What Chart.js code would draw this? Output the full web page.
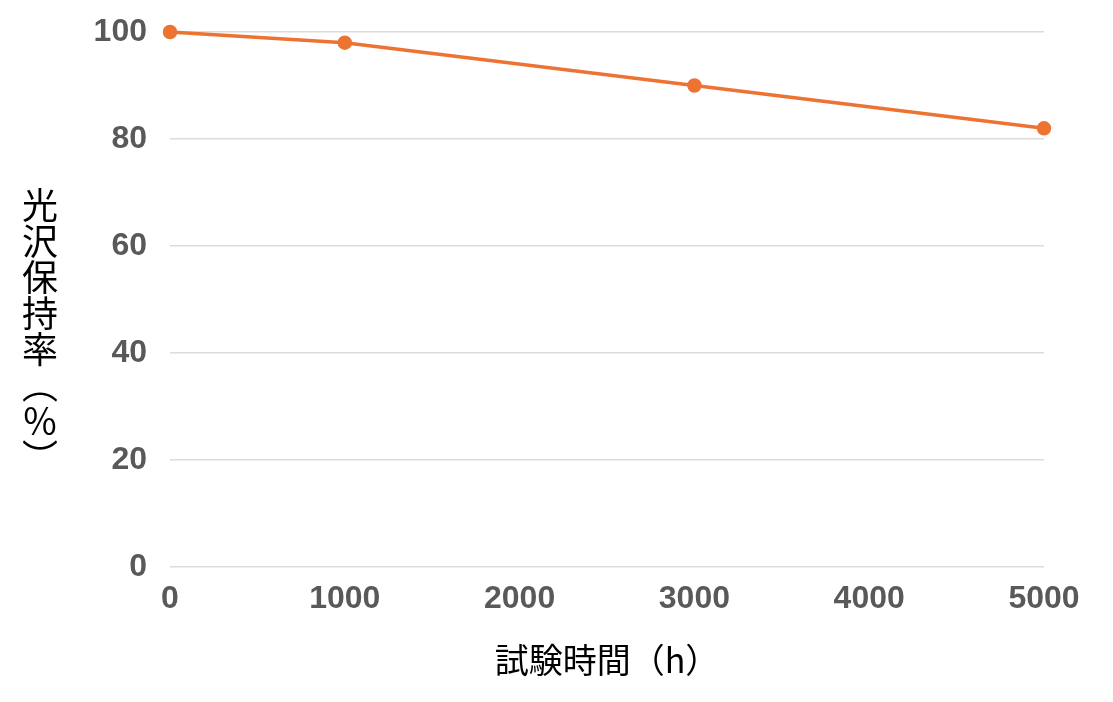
<!doctype html>
<html lang="ja">
<head>
<meta charset="utf-8">
<title>光沢保持率</title>
<style>
  * { box-sizing: border-box; margin: 0; padding: 0; }
  body { background: #fff; width: 1113px; height: 702px; overflow: hidden; position: relative; }
  .cw { position: absolute; left: 0; top: 0; width: 1113px; height: 702px; }
  .ytitle { position: absolute; left: 22px; top: 187px; writing-mode: vertical-rl; text-orientation: upright;
    font: 36px/36px "Noto Sans CJK JP", sans-serif; color: #000; width: 36px; }
</style>
</head>
<body>
<div class="cw"><canvas id="c"></canvas></div>
<div class="ytitle">光沢保持率（％）</div>
<script src="https://cdn.jsdelivr.net/npm/chart.js@4.4.1/dist/chart.umd.min.js"></script>
<script>
  // test hours vs gloss retention (%)
  const hours = [0, 1000, 3000, 5000];
  const retention = [100, 98, 90, 82];
  const xTitle = "試験時間（h）";

  const orange = "#ec7331";
  const tickFont = { family: "'Liberation Sans', Arial, sans-serif", size: 32, weight: "bold" };

  new Chart(document.getElementById("c"), {
    type: "line",
    data: { datasets: [{
      data: hours.map((h, i) => ({ x: h, y: retention[i] })),
      borderColor: orange, backgroundColor: orange, borderWidth: 3.5,
      pointRadius: 5.5, pointHoverRadius: 5.5, tension: 0, clip: false }] },
    options: {
      responsive: true, maintainAspectRatio: false, animation: false,
      layout: { padding: { left: 0, right: 69, top: 32, bottom: 0 } },
      plugins: { legend: { display: false }, tooltip: { enabled: false } },
      scales: {
        x: { type: "linear", min: 0, max: 5000,
          ticks: { stepSize: 1000, color: "#595959", font: tickFont, padding: 13, maxRotation: 0,
            callback: (v) => String(v) },
          grid: { display: false, drawTicks: false }, border: { display: false },
          title: { display: true, text: xTitle, color: "#000",
            font: { family: "'Noto Sans CJK JP', sans-serif", size: 34 }, padding: { top: 0, bottom: 22 } },
          afterFit: (s) => { s.height = 135; } },
        y: { min: 0, max: 100,
          ticks: { stepSize: 20, color: "#595959", font: tickFont, padding: 23 },
          grid: { color: "#dcdcdc", lineWidth: 1.5, drawTicks: false }, border: { display: false },
          // tick padding would otherwise push the plot top down
          afterFit: (s) => { s.width = 170; s.paddingTop = 0; } }
      }
    }
  });
</script>
</body>
</html>
